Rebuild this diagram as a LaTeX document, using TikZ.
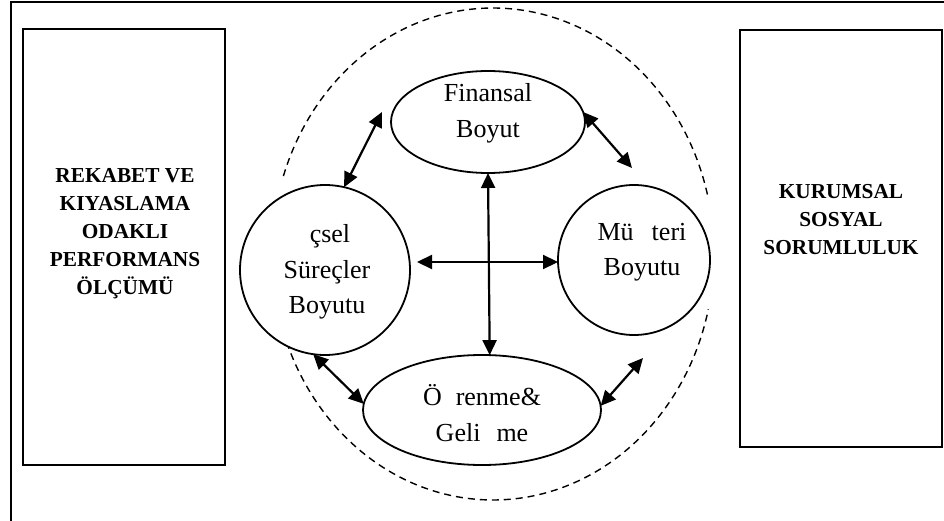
\documentclass[tikz,border=0pt]{standalone}
\usepackage{fontspec}
\setmainfont{Liberation Serif}
\usetikzlibrary{shapes.geometric,arrows.meta}
\begin{document}
\begin{tikzpicture}[x=1pt,y=-1pt,
  frame/.style={line width=2.2pt},
  sidebox/.style={draw,line width=1.7pt,inner sep=0pt,outer sep=0pt},
  sidetext/.style={align=center,font=\fontsize{21.3}{28}\selectfont\bfseries,inner sep=0pt},
  dim/.style={draw,ellipse,fill=white,line width=1.8pt,inner sep=0pt,outer sep=0pt},
  dimtext/.style={align=center,font=\fontsize{26}{35.5}\selectfont,inner sep=0pt},
  link/.style={line width=2.2pt,{Triangle[length=15pt,width=14pt]}-{Triangle[length=15pt,width=14pt]}},
  ring/.style={line width=1.4pt,dash pattern=on 7pt off 5pt}
]
\useasboundingbox (0,0) rectangle (944,521);
\clip (0,0) rectangle (944,521);
\fill[white] (0,0) rectangle (944,521);

% outer page frame
\draw[frame] (11,2) rectangle (960,540);

% side boxes
\node[sidebox,minimum width=202pt,minimum height=436pt] (lbox) at (124,247) {};
\node[sidebox,minimum width=202pt,minimum height=417pt] (rbox) at (841,238.5) {};
\node[sidetext] (ltxt) at (125,233.5) {REKABET VE\\KIYASLAMA\\ODAKLI\\PERFORMANS\\ÖLÇÜMÜ};
\node[sidetext] (rtxt) at (841,219.5) {KURUMSAL\\SOSYAL\\SORUMLULUK};

% dashed ring around the four dimensions
\draw[ring] plot[domain=14:162.5,samples=120] ({493+221*cos(\x)},{254-246*sin(\x)});
\draw[ring] plot[domain=201:347,samples=120] ({493+221*cos(\x)},{254-246*sin(\x)});

% dimensions
\node[dim,minimum width=194pt,minimum height=102pt] (fin) at (488,122) {};
\node[dim,minimum width=170pt,minimum height=170pt] (ic) at (325,270) {};
\node[dim,minimum width=152pt,minimum height=150pt] (mus) at (634,260) {};
\node[dim,minimum width=238pt,minimum height=110pt] (ogr) at (482,410) {};

\node[dimtext] (fint) at (488,113.5) {Finansal\\Boyut};
\node[dimtext] (ict) at (327,272) {\hspace*{6pt}çsel\\Süreçler\\Boyutu};
\node[dimtext] (must) at (642,252) {Mü\hspace{18pt}teri\\Boyutu};
\node[dimtext] (ogrt) at (482,413) {Ö\hspace{14pt}renme\&\\Geli\hspace{16pt}me};

% links between dimensions
\coordinate (fl) at (382,112);
\coordinate (mt) at (632,168);
\coordinate (hl) at (417,262);
\coordinate (mb) at (643,358);
\draw[link] (fl) -- (ic.77);
\draw[link] (fin.6) -- (mt);
\draw[link] (fin.south) -- (ogr.82);
\draw[link] (hl) -- (hl -| mus.west);
\draw[link] (ic.262) -- (ogr.177);
\draw[link] (mb) -- (ogr.2);
\end{tikzpicture}
\end{document}
